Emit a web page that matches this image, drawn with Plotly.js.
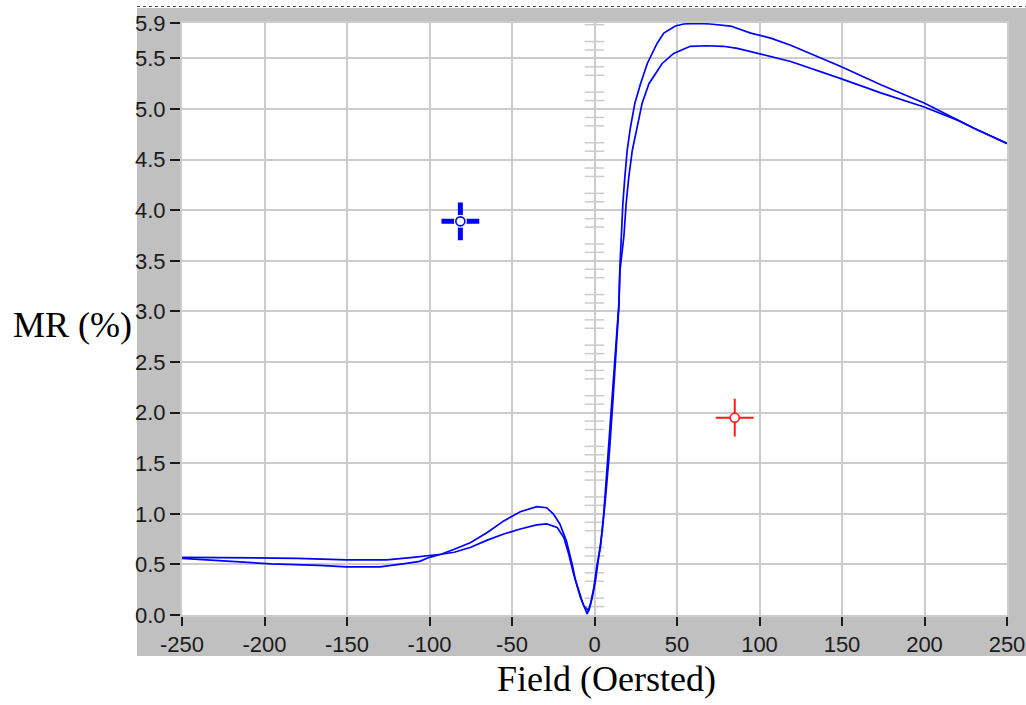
<!DOCTYPE html>
<html>
<head>
<meta charset="utf-8">
<script src="https://cdn.plot.ly/plotly-3.0.1.min.js"></script>
<style>
  html, body { margin: 0; padding: 0; background: #ffffff; }
  #chart { width: 1026px; height: 705px; }
</style>
</head>
<body>
<div id="chart"></div>
<script>
// ---- data ----
var fieldA = [-250,-230,-200,-180,-150,-126,-110,-100,-93,-85,-75,-65,-55,-45,-35,-29,-25,-21,-17,-13.5,-11.5,-8.5,-4.4,-2.4,-0.4,1.6,3.6,5.6,8.3,11,13.8,14.8,15.4,16.2,17.2,18.4,19.8,21.8,24.5,27.9,32,38,42,49,54,62,70,82.5,94.7,106.8,118.9,149.3,173.5,199.8,230,250];
var mrA = [0.57,0.567,0.567,0.56,0.545,0.545,0.57,0.59,0.60,0.65,0.716,0.815,0.93,1.02,1.07,1.06,1.0,0.9,0.73,0.50,0.34,0.17,0.01,0.11,0.27,0.5,0.67,1.0,1.6,2.2,2.81,3.08,3.44,3.74,4.07,4.33,4.59,4.82,5.06,5.25,5.45,5.65,5.75,5.82,5.84,5.845,5.84,5.82,5.75,5.7,5.63,5.42,5.24,5.06,4.81,4.66];

var fieldB = [-250,-230,-216,-196,-167,-150,-130,-122,-114,-106,-100,-93,-85,-75,-65,-55,-45,-35,-29,-22.6,-18.6,-15.6,-12.6,-9.5,-6.5,-3.5,-1.4,0.6,2.6,4.7,6.7,9,11.5,13.8,14.8,15.4,17.8,19.2,20.8,22.9,25.9,28.9,33,41,48,58,68,78,86.6,100.7,118.9,149.3,173.5,199.8,220,230,250];
var mrB = [0.56,0.54,0.52,0.505,0.49,0.475,0.475,0.49,0.51,0.53,0.57,0.60,0.62,0.67,0.74,0.80,0.85,0.89,0.90,0.865,0.765,0.60,0.40,0.24,0.09,0.04,0.17,0.34,0.57,0.83,1.16,1.6,2.2,2.75,3.05,3.40,3.74,4.07,4.33,4.59,4.82,5.06,5.25,5.45,5.55,5.62,5.625,5.62,5.6,5.54,5.47,5.30,5.16,5.02,4.89,4.81,4.66];

// cursors
var cursor1X = [-81.3], cursor1Y = [3.89];
var cursor2X = [85],    cursor2Y = [1.95];

// ticks
var xTickVals = [-250,-200,-150,-100,-50,0,50,100,150,200,250];
var xTickText = ["-250","-200","-150","-100","-50","0","50","100","150","200","250"];
var yTickVals = [0,0.5,1,1.5,2,2.5,3,3.5,4,4.5,5,5.5,5.85];
var yTickText = ["0.0","0.5","1.0","1.5","2.0","2.5","3.0","3.5","4.0","4.5","5.0","5.5","5.9"];
var yMax = 5.85;

// decorative minor ticks on the centre (x = 0) line
var centerTickY = [];
for (var k = 1; k / 12 < yMax; k++) { if (k % 3 !== 0) centerTickY.push(k / 12); }
var centerTickX = centerTickY.map(function () { return 0; });

var BLUE = '#0000ff', RED = '#ff1a1a', GRID = '#cccccc', FRAME = '#c0c0c0';
var tickFont = { family: '"Liberation Sans Narrow", "Arial Narrow", Arial, sans-serif', size: 22, color: '#1a1a1a' };

var traces = [
  { x: centerTickX, y: centerTickY, mode: 'markers', hoverinfo: 'skip',
    marker: { symbol: 'line-ew', size: 14, line: { color: GRID, width: 1.5 } } },
  { x: fieldA, y: mrA, mode: 'lines', line: { color: BLUE, width: 1.7 } },
  { x: fieldB, y: mrB, mode: 'lines', line: { color: BLUE, width: 1.7 } },
  // blue cursor
  { x: cursor1X, y: cursor1Y, mode: 'markers', marker: { symbol: 'cross-thin', size: 27, line: { color: BLUE, width: 5 } } },
  { x: cursor1X, y: cursor1Y, mode: 'markers', marker: { symbol: 'circle', size: 13, color: '#ffffff', line: { width: 0 } } },
  { x: cursor1X, y: cursor1Y, mode: 'markers', marker: { symbol: 'circle', size: 9, color: '#ffffff', line: { color: BLUE, width: 1.6 } } },
  // red cursor
  { x: cursor2X, y: cursor2Y, mode: 'markers', marker: { symbol: 'cross-thin', size: 27, line: { color: RED, width: 2 } } },
  { x: cursor2X, y: cursor2Y, mode: 'markers', marker: { symbol: 'circle', size: 9, color: '#ffffff', line: { color: RED, width: 1.6 } } }
];

var L = 182, R = 1007, T = 23, B = 615;
function px(v) { return (v - L) / (R - L); }
function py(v) { return (B - v) / (B - T); }

var shapes = [
  { type: 'rect', xref: 'paper', yref: 'paper', x0: px(137), x1: 0, y0: py(656), y1: py(8), fillcolor: FRAME, line: { width: 0 }, layer: 'below' },
  { type: 'rect', xref: 'paper', yref: 'paper', x0: 1, x1: px(1026), y0: py(656), y1: py(8), fillcolor: FRAME, line: { width: 0 }, layer: 'below' },
  { type: 'rect', xref: 'paper', yref: 'paper', x0: px(137), x1: px(1026), y0: 1, y1: py(8), fillcolor: FRAME, line: { width: 0 }, layer: 'below' },
  { type: 'rect', xref: 'paper', yref: 'paper', x0: px(137), x1: px(1026), y0: py(656), y1: 0, fillcolor: FRAME, line: { width: 0 }, layer: 'below' },
  { type: 'line', xref: 'paper', yref: 'paper', x0: px(137), x1: px(1026), y0: py(6.5), y1: py(6.5), line: { color: '#444444', width: 1, dash: 'dot' } }
];

var layout = {
  width: 1026, height: 705,
  margin: { l: L, r: 1026 - R, t: T, b: 705 - B, pad: 0 },
  paper_bgcolor: '#ffffff', plot_bgcolor: '#ffffff',
  showlegend: false,
  hovermode: false,
  xaxis: {
    range: [-250, 250], tickmode: 'array', tickvals: xTickVals, ticktext: xTickText,
    showgrid: true, gridcolor: GRID, gridwidth: 2, zeroline: false,
    showline: true, linecolor: GRID, linewidth: 2, mirror: true,
    ticks: 'outside', ticklen: 9, tickwidth: 2, tickcolor: '#1a1a1a',
    tickfont: tickFont, fixedrange: true
  },
  yaxis: {
    range: [0, yMax], tickmode: 'array', tickvals: yTickVals, ticktext: yTickText,
    showgrid: true, gridcolor: GRID, gridwidth: 2, zeroline: false,
    showline: true, linecolor: GRID, linewidth: 2, mirror: true,
    ticks: 'outside', ticklen: 10, tickwidth: 2, tickcolor: '#1a1a1a',
    tickfont: tickFont, fixedrange: true
  },
  shapes: shapes,
  annotations: [
    { text: 'MR (%)', xref: 'paper', yref: 'paper', x: px(72.5), y: py(325), xanchor: 'center', yanchor: 'middle',
      showarrow: false, font: { family: '"Liberation Serif", "Times New Roman", serif', size: 36, color: '#000000' } },
    { text: 'Field (Oersted)', xref: 'paper', yref: 'paper', x: px(606), y: py(679), xanchor: 'center', yanchor: 'middle',
      showarrow: false, font: { family: '"Liberation Serif", "Times New Roman", serif', size: 36, color: '#000000' } }
  ]
};

Plotly.newPlot('chart', traces, layout, { displayModeBar: false, staticPlot: true });
</script>
</body>
</html>
